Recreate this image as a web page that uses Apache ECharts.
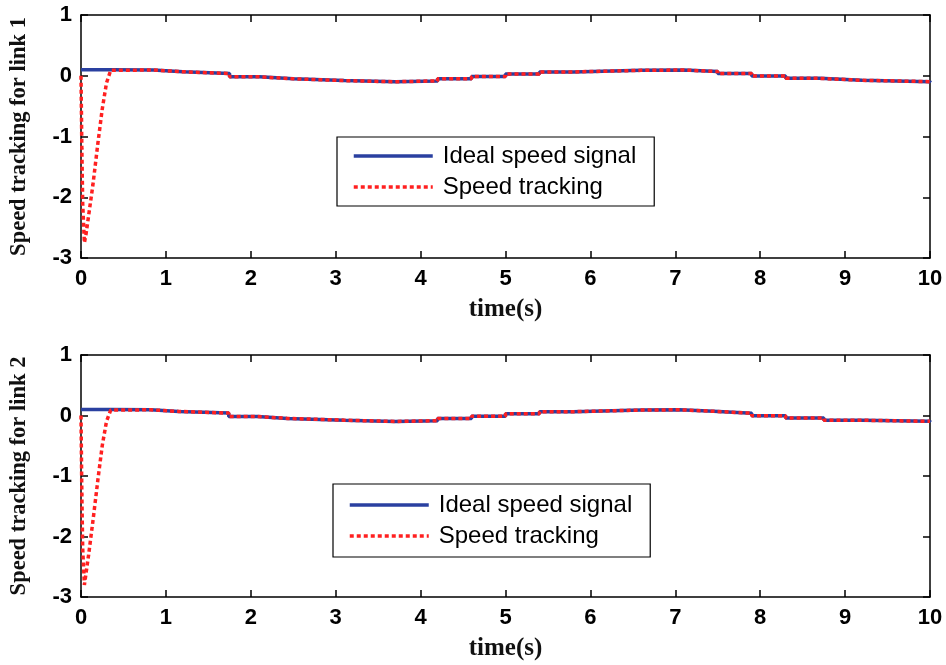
<!DOCTYPE html>
<html>
<head>
<meta charset="utf-8">
<script src="https://cdn.jsdelivr.net/npm/echarts@6/dist/echarts.min.js"></script>
<style>
  html, body { margin: 0; padding: 0; background: #fff; }
  #chart { width: 946px; height: 665px; }
</style>
</head>
<body>
<div id="chart"></div>
<script>
const stepTimes1 = [0, 0.35, 0.85, 1.2, 1.75, 2.1, 2.5, 3.1, 3.7, 4.2, 4.6, 5.0, 5.4, 5.8, 6.6, 7.1, 7.5, 7.9, 8.3, 8.7, 9.2, 10];
const stepVals1  = [0.1, 0.094, 0.066, 0.036, -0.018, -0.05, -0.08, -0.099, -0.085, -0.049, -0.011, 0.028, 0.063, 0.089, 0.095, 0.068, 0.035, -0.004, -0.043, -0.075, -0.097, -0.084];
const stepTimes2 = [0, 0.35, 0.82, 1.15, 1.74, 2.08, 2.43, 3.1, 3.7, 4.2, 4.6, 5.0, 5.4, 5.8, 6.6, 7.05, 7.45, 7.9, 8.3, 8.75, 9.2, 10];
const stepVals2  = [0.1, 0.094, 0.068, 0.04, -0.016, -0.048, -0.077, -0.099, -0.085, -0.049, -0.011, 0.028, 0.063, 0.089, 0.095, 0.07, 0.038, -0.004, -0.043, -0.078, -0.097, -0.084];

// transient of the tracking response before it locks onto the signal
const transT1 = [0, 0.01, 0.02, 0.04, 0.06, 0.09, 0.14, 0.2, 0.25, 0.3, 0.35];
const transV1 = [0.0, -1.2, -2.1, -2.75, -2.6, -2.3, -1.8, -1.1, -0.55, -0.12, 0.09];
const transT2 = [0, 0.01, 0.02, 0.04, 0.06, 0.09, 0.14, 0.2, 0.25, 0.3, 0.35];
const transV2 = [0.0, -1.3, -2.2, -2.8, -2.6, -2.3, -1.75, -1.05, -0.5, -0.1, 0.09];

const xTicks = [0, 1, 2, 3, 4, 5, 6, 7, 8, 9, 10];
const yTicks = [-3, -2, -1, 0, 1];

function pairs(ts, vs) { return ts.map((t, i) => [t, vs[i]]); }

// tracking = transient, then the held ideal signal (vertical jumps as point pairs)
function tracking(tt, tv, st, sv) {
  const out = pairs(tt, tv);
  for (let i = 1; i < st.length; i++) {
    if (st[i] <= tt[tt.length - 1]) continue;
    out.push([st[i], sv[i - 1]]);
    if (i < st.length - 1) out.push([st[i], sv[i]]);
  }
  return out;
}

const chart = echarts.init(document.getElementById("chart"));
const axisFont = { fontFamily: "Liberation Sans, Arial", fontWeight: "bold", fontSize: 22, color: "#000" };
const nameFont = { fontFamily: "Liberation Serif, Times New Roman", fontWeight: "bold", fontSize: 22.5, color: "#111" };
const xNameFont = Object.assign({}, nameFont, { fontSize: 25 });

const BLUE = "#2a40a0";
const RED = "#ff2020";

const grids = [
  { left: 80, top: 15, width: 850, height: 243 },
  { left: 80, top: 355, width: 850, height: 242 }
];

function xAxes(gi) {
  return [
    {
      type: "value", gridIndex: gi, min: 0, max: 10, interval: 1,
      axisLine: { onZero: false, lineStyle: { color: "#000", width: 1.5 } },
      axisTick: { inside: true, length: 7, lineStyle: { color: "#000", width: 1.5 } },
      axisLabel: Object.assign({ margin: 10, formatter: v => xTicks.includes(v) ? String(v) : "" }, axisFont),
      splitLine: { show: false },
      name: "time(s)", nameLocation: "middle", nameGap: 39, nameTextStyle: xNameFont
    },
    {
      type: "value", gridIndex: gi, position: "top", min: 0, max: 10, interval: 1,
      axisLine: { onZero: false, lineStyle: { color: "#000", width: 1.5 } },
      axisTick: { inside: true, length: 7, lineStyle: { color: "#000", width: 1.5 } },
      axisLabel: { show: false }, splitLine: { show: false }
    }
  ];
}

function yAxes(gi, name) {
  return [
    {
      type: "value", gridIndex: gi, min: -3, max: 1, interval: 1,
      axisLine: { onZero: false, lineStyle: { color: "#000", width: 1.5 } },
      axisTick: { inside: true, length: 7, lineStyle: { color: "#000", width: 1.5 } },
      axisLabel: Object.assign({ margin: 9, formatter: v => yTicks.includes(v) ? String(v) : "" }, axisFont),
      splitLine: { show: false },
      name: name, nameLocation: "middle", nameGap: 50, nameTextStyle: nameFont
    },
    {
      type: "value", gridIndex: gi, position: "right", min: -3, max: 1, interval: 1,
      axisLine: { onZero: false, lineStyle: { color: "#000", width: 1.5 } },
      axisTick: { inside: true, length: 7, lineStyle: { color: "#000", width: 1.5 } },
      axisLabel: { show: false }, splitLine: { show: false }
    }
  ];
}

function seriesFor(gi, st, sv, tt, tv) {
  return [
    {
      name: "Ideal speed signal", type: "line", xAxisIndex: gi * 2, yAxisIndex: gi * 2,
      data: pairs(st, sv), step: "end", symbol: "none", animation: false,
      lineStyle: { color: BLUE, width: 3.5 }, itemStyle: { color: BLUE }
    },
    {
      name: "Speed tracking", type: "line", xAxisIndex: gi * 2, yAxisIndex: gi * 2,
      data: tracking(tt, tv, st, sv), symbol: "none", animation: false,
      lineStyle: { color: RED, width: 3.5, type: [4, 3] }, itemStyle: { color: RED }
    }
  ];
}

function legendAt(left, top, padV) {
  return {
    left: left, top: top, orient: "vertical",
    data: ["Ideal speed signal", "Speed tracking"],
    itemWidth: 79, itemHeight: 14, itemGap: 7,
    padding: [padV, 18, padV, 15],
    borderColor: "#000", borderWidth: 1.2, backgroundColor: "#fff",
    itemStyle: { opacity: 0 },
    lineStyle: { width: 3.5 },
    textStyle: { fontFamily: "Liberation Sans, Arial", fontSize: 24, color: "#000", padding: [0, 0, 0, 5] },
    selectedMode: false
  };
}

const option = {
  animation: false,
  grid: grids,
  xAxis: xAxes(0).concat(xAxes(1)),
  yAxis: yAxes(0, "Speed tracking for link 1").concat(yAxes(1, "Speed tracking for link 2")),
  legend: [legendAt(337, 137, 7), legendAt(333, 484, 9)],
  series: seriesFor(0, stepTimes1, stepVals1, transT1, transV1)
    .concat(seriesFor(1, stepTimes2, stepVals2, transT2, transV2))
};

chart.setOption(option);
</script>
</body>
</html>
